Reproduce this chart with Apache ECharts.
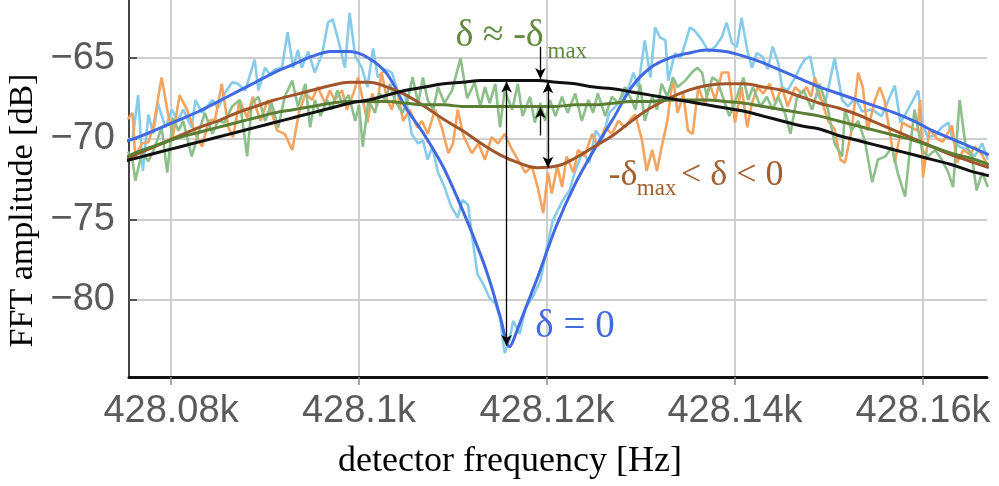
<!DOCTYPE html>
<html><head><meta charset="utf-8">
<script src="https://cdn.jsdelivr.net/npm/echarts@6/dist/echarts.min.js"></script>
<style>html,body{margin:0;padding:0;background:#fff}#c{width:999px;height:486px}</style>
</head><body><div id="c"></div>
<script>
const xTickValues = [428080, 428100, 428120, 428140, 428160];
const yTickValues = [-80, -75, -70, -65];

// noisy measured data: δ = 0
const skyHz = [428075.4,428075.9,428076.5,428077.0,428077.6,428078.1,428078.6,428079.4,428080.1,428080.7,428081.3,428082.2,428082.6,428083.3,428084.0,428084.4,428085.0,428085.7,428086.5,428087.1,428087.9,428088.9,428089.3,428090.0,428090.5,428091.1,428091.8,428092.4,428093.0,428093.5,428093.9,428094.6,428095.3,428096.1,428096.7,428097.2,428097.8,428098.5,428099.0,428099.6,428100.3,428100.9,428101.5,428102.0,428102.8,428103.5,428104.1,428104.9,428105.6,428106.3,428106.8,428107.3,428107.8,428108.4,428109.1,428109.8,428110.5,428111.0,428111.6,428112.0,428112.6,428113.2,428113.9,428114.5,428115.0,428115.5,428116.0,428116.4,428117.1,428117.7,428118.5,428119.3,428120.0,428120.6,428121.7,428122.4,428123.0,428123.8,428124.5,428125.2,428125.9,428126.6,428127.3,428128.0,428128.7,428129.2,428129.7,428130.4,428131.0,428131.5,428132.0,428132.6,428132.9,428133.6,428134.2,428134.7,428135.2,428135.7,428136.5,428137.2,428137.9,428138.6,428139.1,428139.7,428140.2,428140.7,428141.3,428141.8,428142.3,428142.9,428143.5,428144.0,428144.6,428145.0,428145.6,428146.4,428146.9,428147.4,428148.0,428148.5,428148.9,428149.6,428150.6,428151.4,428152.0,428152.8,428153.5,428154.6,428155.6,428157.0,428157.6,428158.4,428159.5,428159.9,428160.5,428161.3,428162.0,428162.7,428163.2,428163.9,428164.8,428165.5,428166.3,428166.9];
const skyDb = [-70.0,-70.1,-67.3,-72.0,-68.5,-69.7,-67.8,-69.3,-68.2,-68.9,-68.2,-69.3,-67.6,-68.4,-67.9,-67.6,-68.1,-67.2,-66.5,-66.6,-67.0,-65.1,-67.0,-65.6,-66.0,-65.7,-65.6,-63.4,-65.6,-64.5,-65.6,-64.6,-65.9,-64.7,-62.8,-62.6,-63.9,-65.6,-62.2,-64.9,-65.6,-66.8,-64.4,-66.2,-65.7,-65.9,-67.0,-67.2,-69.7,-70.3,-70.1,-71.3,-70.5,-72.1,-73.0,-74.2,-74.9,-73.8,-74.1,-75.9,-78.4,-79.0,-79.9,-80.2,-81.1,-83.3,-82.5,-81.3,-82.1,-80.5,-79.8,-78.8,-76.7,-75.1,-73.8,-73.2,-72.0,-70.8,-71.5,-69.5,-70.1,-68.4,-68.0,-67.4,-66.8,-65.9,-66.8,-63.9,-66.2,-63.1,-63.7,-63.9,-66.4,-64.7,-65.0,-64.1,-63.1,-63.3,-63.9,-64.6,-64.3,-63.7,-62.8,-64.1,-64.3,-62.5,-64.5,-65.6,-64.7,-64.9,-65.7,-64.3,-65.3,-66.8,-67.0,-66.2,-65.6,-65.1,-64.9,-66.4,-67.4,-67.8,-65.0,-67.6,-68.0,-67.5,-68.3,-68.2,-68.6,-66.7,-69.0,-68.2,-67.0,-69.0,-69.9,-69.8,-69.3,-69.0,-70.1,-70.5,-70.7,-71.1,-70.3,-71.3];

// noisy measured data: -δmax < δ < 0
const sandHz = [428075.4,428075.9,428076.2,428076.9,428077.6,428078.1,428079.0,428079.6,428080.2,428080.9,428081.7,428082.6,428083.3,428084.0,428084.7,428085.4,428086.1,428086.6,428087.3,428088.1,428088.7,428089.5,428090.3,428091.3,428092.1,428092.9,428093.6,428094.3,428095.0,428095.6,428096.4,428096.9,428097.4,428098.2,428098.7,428099.4,428099.9,428100.4,428100.9,428101.4,428101.9,428102.4,428103.0,428103.5,428104.0,428104.7,428105.4,428106.2,428106.7,428107.3,428108.1,428108.8,428109.5,428110.0,428110.5,428111.1,428112.0,428112.7,428113.4,428114.1,428114.8,428115.5,428116.3,428116.9,428117.7,428118.4,428119.0,428119.6,428120.1,428120.5,428121.1,428121.6,428122.1,428122.8,428123.3,428124.0,428124.8,428125.4,428126.2,428126.9,428127.6,428128.3,428129.0,428129.4,428130.1,428130.6,428131.2,428131.7,428132.2,428132.8,428133.4,428133.9,428134.5,428135.0,428135.5,428136.1,428136.8,428137.3,428137.9,428138.6,428139.3,428140.0,428140.7,428141.3,428141.8,428142.4,428143.0,428143.7,428144.3,428145.0,428145.6,428146.4,428147.1,428147.6,428148.1,428148.5,428149.3,428149.9,428150.6,428151.2,428151.7,428152.4,428153.1,428153.6,428154.1,428154.9,428155.4,428155.9,428157.0,428157.8,428158.4,428159.4,428159.7,428160.0,428160.7,428161.5,428162.1,428163.1,428163.6,428164.3,428165.0,428165.5,428166.3,428166.9];
const sandDb = [-68.8,-68.4,-71.1,-70.3,-70.2,-69.3,-66.2,-68.2,-69.9,-67.3,-68.2,-69.7,-70.5,-68.9,-68.8,-66.6,-69.3,-69.9,-67.6,-68.7,-67.4,-68.9,-67.6,-69.5,-69.7,-70.7,-68.4,-67.2,-67.6,-66.8,-67.8,-67.0,-67.6,-67.0,-68.2,-67.2,-66.2,-67.6,-69.0,-67.2,-68.0,-65.9,-67.6,-68.2,-66.8,-68.9,-68.2,-69.3,-68.9,-69.7,-68.2,-69.3,-70.9,-70.3,-68.2,-69.8,-70.9,-70.3,-71.3,-69.9,-70.3,-69.7,-70.7,-71.3,-72.1,-71.7,-73.0,-74.6,-72.1,-73.4,-71.7,-73.0,-71.1,-72.1,-70.7,-71.1,-69.7,-70.5,-69.3,-69.7,-68.9,-69.3,-68.7,-68.5,-70.1,-72.0,-70.7,-72.0,-70.5,-68.9,-66.2,-68.4,-67.2,-69.5,-69.7,-66.8,-67.9,-66.6,-67.6,-65.9,-65.9,-69.0,-66.8,-69.3,-67.8,-66.8,-67.2,-66.6,-67.8,-66.8,-68.0,-66.8,-67.2,-66.8,-67.4,-66.2,-67.8,-68.9,-69.4,-71.3,-71.5,-69.5,-65.9,-66.8,-69.5,-67.6,-66.8,-67.6,-71.5,-69.0,-69.2,-69.5,-67.6,-72.4,-69.4,-70.0,-70.2,-69.2,-71.5,-70.7,-71.0,-70.5,-71.0,-71.7];

// noisy measured data: δ ≈ -δmax
const sageHz = [428075.4,428075.9,428076.2,428076.9,428077.6,428078.3,428079.0,428079.6,428080.2,428080.8,428081.3,428082.2,428082.9,428083.6,428084.4,428085.0,428085.7,428086.5,428087.3,428088.1,428088.6,428089.3,428090.0,428090.7,428091.4,428092.1,428092.9,428093.5,428094.3,428094.8,428095.3,428095.9,428096.6,428097.1,428097.7,428098.2,428098.9,428099.6,428100.0,428100.4,428101.0,428101.7,428102.2,428102.8,428103.3,428103.8,428104.6,428105.1,428105.7,428106.3,428106.8,428107.3,428107.9,428108.4,428109.1,428109.9,428110.8,428111.5,428112.3,428112.9,428113.4,428113.9,428114.5,428115.0,428115.5,428116.3,428116.9,428117.4,428118.2,428118.7,428119.3,428119.8,428120.3,428120.9,428121.6,428122.2,428123.0,428123.7,428124.4,428124.9,428125.4,428126.2,428126.9,428127.6,428128.3,428129.0,428129.4,428129.9,428130.4,428131.2,428131.7,428132.2,428132.8,428133.4,428133.9,428134.7,428135.4,428136.0,428136.5,428137.0,428137.6,428138.1,428138.7,428139.4,428140.2,428140.9,428141.4,428141.9,428142.7,428143.4,428144.0,428144.6,428145.3,428145.9,428146.6,428147.3,428148.2,428149.0,428149.9,428150.6,428151.4,428151.7,428152.4,428153.1,428153.8,428154.6,428155.2,428156.0,428156.7,428157.3,428158.1,428158.6,428159.1,428159.9,428160.5,428161.3,428162.0,428162.7,428163.2,428163.9,428164.5,428165.2,428165.7,428166.3,428166.9];
const sageDb = [-70.8,-71.3,-72.6,-70.9,-71.4,-70.5,-69.3,-72.1,-68.7,-69.5,-68.9,-71.1,-69.7,-68.4,-69.7,-68.9,-69.0,-68.0,-67.6,-71.1,-67.8,-67.4,-68.9,-67.8,-69.3,-67.4,-66.4,-68.0,-66.6,-69.3,-67.6,-68.6,-67.6,-68.2,-67.0,-67.8,-67.3,-68.9,-67.9,-70.5,-67.6,-68.4,-67.2,-67.6,-66.6,-67.6,-68.4,-67.8,-66.2,-67.8,-66.2,-67.6,-68.2,-66.8,-67.8,-67.0,-65.0,-67.5,-66.5,-68.0,-66.8,-67.8,-66.6,-69.3,-67.0,-68.2,-66.6,-68.6,-67.4,-69.0,-67.8,-68.9,-67.6,-68.6,-67.4,-68.4,-67.2,-68.9,-67.6,-68.4,-67.2,-68.6,-67.4,-67.8,-66.8,-67.6,-68.2,-66.6,-68.9,-67.4,-68.2,-66.6,-67.4,-66.2,-66.8,-66.4,-65.9,-65.6,-65.9,-67.4,-66.2,-66.4,-67.4,-68.6,-67.4,-66.2,-67.6,-66.8,-68.0,-67.4,-68.2,-67.4,-68.4,-69.7,-67.4,-67.0,-68.2,-66.6,-68.2,-70.3,-71.1,-68.2,-69.5,-68.9,-70.1,-72.7,-71.3,-71.1,-70.5,-72.1,-73.6,-70.7,-68.2,-70.7,-71.1,-70.7,-71.3,-72.1,-73.0,-67.6,-70.3,-71.1,-73.2,-72.1,-73.0];

// fitted curves
const blueFitHz = [428075,428077,428079,428081,428083,428085,428087,428089,428091,428093,428095,428097,428099,428101,428103,428105,428107,428109,428111,428113,428114,428115,428116,428117,428118,428119,428121,428123,428125,428127,428129,428131,428133,428135,428137,428139,428141,428143,428145,428147,428149,428151,428153,428155,428157,428159,428161,428163,428165,428167];
const blueFitDb = [-70.2,-69.8,-69.3,-68.8,-68.3,-67.7,-67.1,-66.5,-65.9,-65.4,-64.9,-64.6,-64.6,-65.0,-66.0,-68.1,-69.8,-71.8,-74.4,-77.3,-79.0,-81.0,-82.9,-81.6,-80.1,-78.6,-75.4,-72.8,-70.7,-68.8,-66.8,-65.6,-65.0,-64.7,-64.5,-64.6,-64.9,-65.3,-65.8,-66.3,-66.8,-67.2,-67.6,-68.0,-68.4,-68.9,-69.5,-70.0,-70.5,-71.0];
const fitHz = [428075,428077,428079,428081,428083,428085,428087,428089,428091,428093,428095,428097,428099,428101,428103,428105,428107,428109,428111,428113,428115,428117,428119,428121,428123,428125,428127,428129,428131,428133,428135,428137,428139,428141,428143,428145,428147,428149,428151,428153,428155,428157,428159,428161,428163,428165,428167];
const brownFitDb = [-71.3,-70.8,-70.3,-69.8,-69.3,-68.9,-68.4,-68.0,-67.6,-67.3,-67.0,-66.7,-66.5,-66.5,-66.8,-67.3,-68.0,-68.8,-69.5,-70.3,-71.0,-71.5,-71.8,-71.7,-71.2,-70.5,-69.8,-68.9,-68.1,-67.5,-67.0,-66.7,-66.6,-66.6,-66.8,-67.0,-67.4,-67.8,-68.1,-68.5,-69.0,-69.5,-70.0,-70.5,-71.0,-71.4,-71.8];
const oliveFitDb = [-71.2,-70.7,-70.3,-69.9,-69.6,-69.3,-69.0,-68.7,-68.4,-68.2,-68.0,-67.8,-67.7,-67.7,-67.7,-67.8,-67.9,-67.9,-68.0,-68.0,-68.0,-68.0,-68.0,-68.0,-67.9,-67.9,-67.8,-67.7,-67.7,-67.6,-67.6,-67.6,-67.7,-67.8,-68.0,-68.2,-68.4,-68.6,-68.9,-69.2,-69.5,-69.8,-70.1,-70.5,-70.9,-71.2,-71.6];
const blackFitDb = [-71.4,-71.1,-70.8,-70.5,-70.2,-69.9,-69.6,-69.3,-69.0,-68.7,-68.4,-68.1,-67.8,-67.6,-67.3,-67.0,-66.8,-66.6,-66.5,-66.4,-66.4,-66.4,-66.4,-66.5,-66.6,-66.8,-66.9,-67.1,-67.3,-67.5,-67.7,-67.9,-68.1,-68.3,-68.6,-68.9,-69.2,-69.4,-69.8,-70.1,-70.4,-70.7,-71.0,-71.3,-71.6,-72.0,-72.3];

// annotation texts and their anchor points (Hz, dB)
const annoText = ['δ ≈ -δ', 'max', '-δ', 'max', '< δ < 0', 'δ = 0'];
const annoHz = [428110.2, 428120.0, 428126.5, 428129.5, 428134.2, 428118.7];
const annoDb = [-63.65, -64.6, -72.27, -73.1, -72.27, -81.65];

const zip = (xs, ys) => xs.map((x, i) => [x, ys[i]]);
const serif = 'Liberation Serif';
const sans = '"Liberation Sans", Arial, sans-serif';
const annoColor = ['#618a3e', '#618a3e', '#a2602e', '#a2602e', '#a2602e', '#4169e1'];
const annoSize = [38, 23, 36, 23, 36, 39];

const chart = echarts.init(document.getElementById('c'), null, {renderer: 'canvas'});
const noisy = (name, d, color) => ({type: 'line', name, data: d, showSymbol: false, symbol: 'none',
  lineStyle: {color, width: 2.6}, z: 2, animation: false});
const fit = (name, d, color, sm) => ({type: 'line', name, data: d, showSymbol: false, symbol: 'none',
  smooth: sm, lineStyle: {color, width: 3}, z: 3, animation: false});

const blackSeries = fit('black', zip(fitHz, blackFitDb), '#111111', 0.4);
blackSeries.z = 4;
blackSeries.markLine = {
  silent: true, animation: false, symbolSize: [8, 11],
  label: {show: false},
  lineStyle: {color: '#000', width: 1.3, type: 'solid'},
  data: [
    [{coord: [428115.7, -66.45], symbol: 'arrow'}, {coord: [428115.7, -82.85], symbol: 'arrow'}],
    [{coord: [428119.3, -64.3], symbol: 'none'}, {coord: [428119.3, -66.3], symbol: 'arrow'}],
    [{coord: [428120.1, -66.5], symbol: 'arrow'}, {coord: [428120.1, -71.8], symbol: 'arrow'}],
    [{coord: [428119.3, -69.8], symbol: 'none'}, {coord: [428119.3, -68.05], symbol: 'arrow'}]
  ]
};
blackSeries.markPoint = {
  silent: true, animation: false, symbol: 'circle', symbolSize: 1,
  itemStyle: {color: 'rgba(0,0,0,0)'},
  data: annoText.map((t, i) => ({
    coord: [annoHz[i], annoDb[i]],
    label: {show: true, position: 'right', distance: 0, formatter: t,
      fontFamily: serif, fontSize: annoSize[i], color: annoColor[i]}
  }))
};

chart.setOption({
  animation: false,
  backgroundColor: '#ffffff',
  grid: {left: 129, right: 12, top: 0, bottom: 109, containLabel: false, outerBoundsMode: 'none'},
  xAxis: {
    type: 'value', min: 428075.53, max: 428166.81,
    name: 'detector frequency [Hz]', nameLocation: 'middle', nameGap: 67,
    nameTextStyle: {fontFamily: serif, fontSize: 36, color: '#000', padding: [0, 96, 0, 0]},
    axisLine: {show: true, onZero: false, lineStyle: {color: '#111', width: 3}},
    axisTick: {show: true, inside: false, length: 8, customValues: xTickValues, lineStyle: {color: '#888', width: 1.5}},
    axisLabel: {customValues: xTickValues, margin: 16, fontFamily: sans, fontSize: 38, color: '#5a5a5a',
      formatter: v => parseFloat((v / 1000).toFixed(3)) + 'k'},
    splitLine: {show: true, lineStyle: {color: '#cfcfcf', width: 2}}
  },
  yAxis: {
    type: 'value', min: -84.78, max: -61.4,
    name: 'FFT amplitude [dB]', nameLocation: 'middle', nameGap: 88, nameRotate: 90,
    nameTextStyle: {fontFamily: serif, fontSize: 34, color: '#000', padding: [0, 44, 0, 0]},
    axisLine: {show: true, onZero: false, lineStyle: {color: '#444', width: 2}},
    axisTick: {show: true, inside: true, length: 8, customValues: yTickValues, lineStyle: {color: '#555', width: 2}},
    axisLabel: {customValues: yTickValues, margin: 14, fontFamily: sans, fontSize: 38, color: '#5a5a5a',
      formatter: v => '\u2212' + Math.abs(v)},
    splitLine: {show: true, lineStyle: {color: '#cfcfcf', width: 2}}
  },
  series: [
    noisy('sky', zip(skyHz, skyDb), '#86cbea'),
    noisy('sand', zip(sandHz, sandDb), '#f4a45f'),
    noisy('sage', zip(sageHz, sageDb), '#8dbf8a'),
    fit('blue', zip(blueFitHz, blueFitDb), '#4169e1', 0.3),
    fit('brown', zip(fitHz, brownFitDb), '#a0562a', 0.4),
    fit('olive', zip(fitHz, oliveFitDb), '#5a7d32', 0.4),
    blackSeries
  ]
});
</script></body></html>
